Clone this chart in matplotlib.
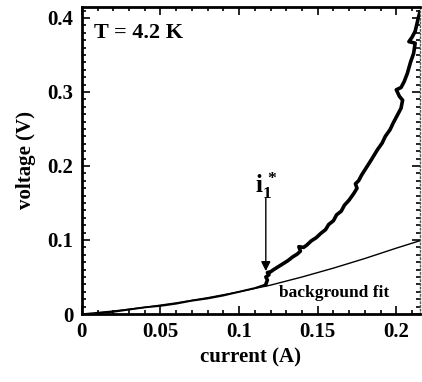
import numpy as np
import matplotlib
matplotlib.use('Agg')
from matplotlib import pyplot as plt
from matplotlib.ticker import MultipleLocator

# measured V(I) above the threshold (jagged trace)
cur_hi = [0.117, 0.118, 0.117, 0.119, 0.118, 0.120, 0.122, 0.125, 0.128, 0.131, 0.134,
          0.137, 0.139, 0.138, 0.141, 0.143, 0.146, 0.149, 0.152, 0.155, 0.157, 0.160,
          0.162, 0.165, 0.167, 0.170, 0.173, 0.175, 0.174, 0.176, 0.178, 0.181, 0.184,
          0.188, 0.191, 0.193, 0.196, 0.198, 0.201, 0.203, 0.204, 0.202, 0.200, 0.203,
          0.205, 0.207, 0.209, 0.211, 0.212, 0.208, 0.210, 0.212, 0.213, 0.214, 0.215]
volt_hi = [0.040, 0.046, 0.050, 0.053, 0.056, 0.057, 0.060, 0.064, 0.068, 0.072, 0.077,
           0.081, 0.085, 0.091, 0.090, 0.093, 0.099, 0.103, 0.109, 0.114, 0.121, 0.126,
           0.134, 0.139, 0.147, 0.154, 0.163, 0.170, 0.176, 0.180, 0.188, 0.198, 0.208,
           0.222, 0.231, 0.240, 0.249, 0.258, 0.270, 0.278, 0.289, 0.294, 0.303, 0.306,
           0.314, 0.325, 0.340, 0.352, 0.366, 0.368, 0.374, 0.382, 0.391, 0.400, 0.408]

# measured V(I) below the threshold (lies on the fit)
cur_lo = [0.010, 0.020, 0.030, 0.040, 0.050, 0.060, 0.070, 0.080, 0.090, 0.100, 0.110, 0.117]
volt_lo = [0.001, 0.003, 0.006, 0.009, 0.011, 0.014, 0.018, 0.021, 0.025, 0.030, 0.035, 0.040]

# background fit
cur_fit = [0.0, 0.02, 0.04, 0.06, 0.08, 0.10, 0.12, 0.14, 0.16, 0.18, 0.20, 0.215]
volt_fit = [0.0, 0.004, 0.009, 0.015, 0.022, 0.030, 0.039, 0.050, 0.062, 0.075, 0.089, 0.099]

plt.rcParams['font.family'] = ['Liberation Serif', 'DejaVu Serif']
plt.rcParams['font.weight'] = 'bold'
plt.rcParams['axes.labelweight'] = 'bold'
plt.rcParams['mathtext.fontset'] = 'custom'
plt.rcParams['mathtext.rm'] = 'Liberation Serif:bold'
plt.rcParams['mathtext.it'] = 'Liberation Serif:bold'

fig = plt.figure(figsize=(4.22, 3.82), dpi=100)
ax = fig.add_axes([0.194, 0.178, 0.801, 0.804])

ax.plot(cur_fit, volt_fit, color='black', lw=1.0)
ax.plot(cur_lo, volt_lo, color='black', lw=1.4)
ax.plot(cur_hi, volt_hi, color='black', lw=2.6, solid_joinstyle='round')

ax.annotate('', xy=(0.117, 0.058), xytext=(0.117, 0.157),
            arrowprops=dict(arrowstyle='-|>', color='black', lw=1.0,
                            mutation_scale=14, shrinkA=0, shrinkB=0))
ax.text(0.117, 0.174, r'$\mathrm{i}_{1}^{\,*}$', fontsize=18, ha='center', va='center')

ax.text(0.008, 0.38, 'T = 4.2 K', fontsize=16, ha='left', va='center')
ax.text(0.1255, 0.028, 'background fit', fontsize=12.5, ha='left', va='center')

ax.set_xlim(0, 0.215)
ax.set_ylim(0, 0.415)
ax.xaxis.set_minor_locator(MultipleLocator(0.01))
ax.yaxis.set_minor_locator(MultipleLocator(0.01))
ax.set_xticks([0, 0.05, 0.1, 0.15, 0.2])
ax.set_xticklabels(['0', '0.05', '0.1', '0.15', '0.2'])
ax.set_yticks([0, 0.1, 0.2, 0.3, 0.4])
ax.set_yticklabels(['0', '0.1', '0.2', '0.3', '0.4'])
ax.tick_params(which='both', direction='in', top=True, right=True, labelsize=15,
               width=1.2, pad=6)
ax.tick_params(which='major', length=6)
ax.tick_params(which='minor', length=3)

for side in ['left', 'bottom', 'top']:
    ax.spines[side].set_linewidth(2.0)
ax.spines['right'].set_linewidth(1.0)
ax.spines['right'].set_linestyle(':')
ax.spines['right'].set_color('#555555')

ax.set_xlabel('current (A)', fontsize=15, labelpad=4)
ax.set_ylabel('voltage (V)', fontsize=15, labelpad=8)

plt.savefig('out.png', dpi=100)
